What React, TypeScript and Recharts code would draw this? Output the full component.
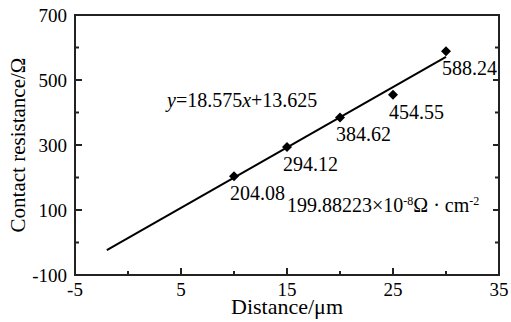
import { ScatterChart, Scatter, XAxis, YAxis, LabelList, ReferenceArea } from "recharts"

const distances = [10, 15, 20, 25, 30]
const resistances = [204.08, 294.12, 384.62, 454.55, 588.24]
const fitX = [-2, 30]
const fitY = [-23.5, 571]
const xMajor = [-5, 5, 15, 25, 35]
const xMinor = [0, 10, 20, 30]
const yMajor = [-100, 100, 300, 500, 700]
const yMinor = [0, 200, 400, 600]

const points = distances.map((x, i) => ({ x, y: resistances[i] }))
const fit = fitX.map((x, i) => ({ x, y: fitY[i] }))
const xAll = [...xMajor, ...xMinor].sort((a, b) => a - b)
const yAll = [...yMajor, ...yMinor].sort((a, b) => a - b)

const FONT = '"Liberation Serif", "Times New Roman", serif'
const INK = "#000000"
const RULE = "#222222"

// ticks point inward, so each tick draws its own little stroke
const BottomTick = (props: any) => {
  const { x, y, payload } = props
  const major = xMajor.includes(payload.value)
  const ay = y - 8
  const len = major ? 7 : 4
  return (
    <g>
      <path d={`M${x},${ay}L${x},${ay - len}`} stroke={RULE} strokeWidth={2} />
      {major && (
        <text x={x} y={y} dy="0.71em" textAnchor="middle" fontSize={19} fontFamily={FONT} fill={INK}>
          {payload.value}
        </text>
      )}
    </g>
  )
}

const LeftTick = (props: any) => {
  const { x, y, payload } = props
  const major = yMajor.includes(payload.value)
  const ax = x + 8
  const len = major ? 7 : 4
  return (
    <g>
      <path d={`M${ax},${y}L${ax + len},${y}`} stroke={RULE} strokeWidth={2} />
      {major && (
        <text x={x} y={y} dy="0.35em" textAnchor="end" fontSize={19} fontFamily={FONT} fill={INK}>
          {payload.value}
        </text>
      )}
    </g>
  )
}

const RightTick = (props: any) => {
  const { x, y, payload } = props
  const major = yMajor.includes(payload.value)
  const len = major ? 6 : 4
  return <path d={`M${x},${y}L${x - len},${y}`} stroke={RULE} strokeWidth={2} />
}

const Diamond = (props: any) => {
  const { cx, cy } = props
  const s = 5
  return <polygon points={`${cx},${cy - s} ${cx + s},${cy} ${cx},${cy + s} ${cx - s},${cy}`} fill={INK} />
}

const ValueLabel = (props: any) => {
  const { x, y, width, height, value } = props
  const cx = x + (width || 0) / 2
  const cy = y + (height || 0) / 2
  return (
    <text x={cx - 4} y={cy + 17} dy="0.35em" fontSize={20} fontFamily={FONT} fill={INK}>
      {value}
    </text>
  )
}

export default function App() {
  return (
    <div style={{ position: "absolute", left: 0, top: 0, background: "#fff" }}>
      <ScatterChart width={511} height={322} margin={{ top: 15, right: 0, bottom: 5, left: 8 }}>
        <XAxis
          type="number"
          dataKey="x"
          domain={[-5, 35]}
          ticks={xAll}
          interval={0}
          allowDataOverflow
          tickLine={false}
          axisLine={false}
          tickSize={0}
          tickMargin={8}
          tick={<BottomTick />}
          height={42}
          label={{ value: "Distance/μm", position: "insideBottom", offset: 3, fill: INK, fontSize: 22, fontFamily: FONT }}
        />
        <YAxis
          type="number"
          dataKey="y"
          domain={[-100, 700]}
          ticks={yAll}
          interval={0}
          allowDataOverflow
          tickLine={false}
          axisLine={false}
          tickSize={0}
          tickMargin={8}
          tick={<LeftTick />}
          width={67}
          label={{ value: "Contact resistance/Ω", angle: -90, position: "insideLeft", offset: 10, fill: INK, fontSize: 21, fontFamily: FONT, style: { textAnchor: "middle" } }}
        />
        <YAxis
          yAxisId="r"
          orientation="right"
          type="number"
          domain={[-100, 700]}
          ticks={yAll}
          interval={0}
          allowDataOverflow
          tickLine={false}
          axisLine={false}
          tickSize={0}
          tickMargin={0}
          tick={<RightTick />}
          width={12}
        />
        <ReferenceArea x1={-5} x2={35} y1={-100} y2={700} ifOverflow="visible" fill="none" stroke={RULE} strokeWidth={2} />
        <Scatter data={fit} line={{ stroke: INK, strokeWidth: 2 }} shape={() => <g />} isAnimationActive={false} />
        <Scatter data={points} shape={<Diamond />} isAnimationActive={false}>
          <LabelList dataKey="y" content={<ValueLabel />} />
        </Scatter>
        <text x={167} y={107} fontSize={20} fontFamily={FONT} fill={INK}>
          <tspan fontStyle="italic">y</tspan>=18.575<tspan fontStyle="italic">x</tspan>+13.625
        </text>
        <text x={287} y={212} fontSize={20} fontFamily={FONT} fill={INK}>
          199.88223×10<tspan dy={-7} fontSize={12}>-8</tspan>
          <tspan dy={7}>Ω · cm</tspan>
          <tspan dy={-7} fontSize={12}>-2</tspan>
        </text>
      </ScatterChart>
    </div>
  )
}
